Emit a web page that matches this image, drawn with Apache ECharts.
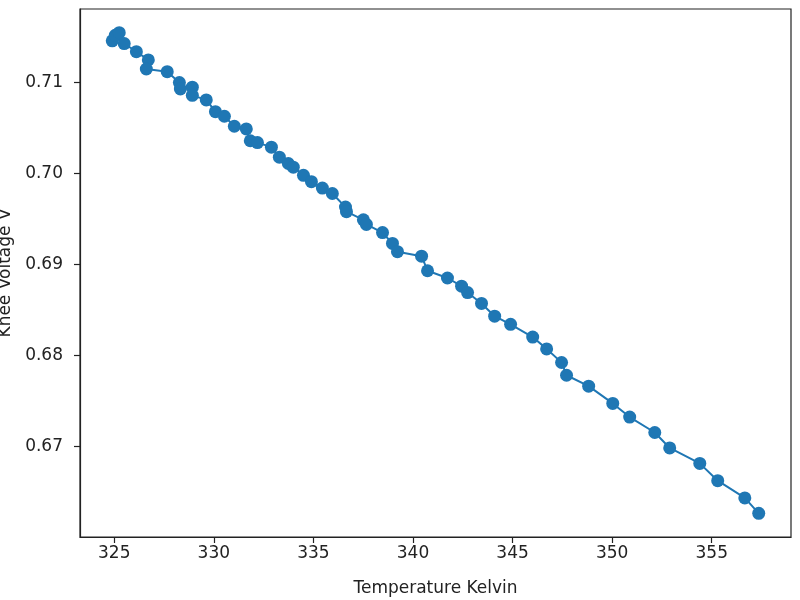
<!DOCTYPE html>
<html>
<head>
<meta charset="utf-8">
<script src="https://cdn.jsdelivr.net/npm/echarts@6/dist/echarts.min.js"></script>
<style>html,body{margin:0;padding:0;background:#fff}#c{width:800px;height:600px}</style>
</head>
<body>
<div id="c"></div>
<script>
const temperature = [324.90,325.05,325.25,325.50,326.11,326.71,326.61,327.66,328.27,328.32,328.92,328.92,329.62,330.08,330.53,331.03,331.63,331.83,332.19,332.89,333.29,333.74,333.99,334.50,334.90,335.45,335.95,336.61,336.66,337.51,337.66,338.47,338.97,339.22,340.43,340.73,341.73,342.44,342.74,343.44,344.10,344.90,346.01,346.71,347.46,347.71,348.82,350.03,350.88,352.14,352.89,354.40,355.30,356.66,357.36];
const kneeVoltage = [0.7146,0.7152,0.7155,0.7143,0.7134,0.7125,0.7115,0.7112,0.7100,0.7093,0.7095,0.7086,0.7081,0.7068,0.7063,0.7052,0.7049,0.7036,0.7034,0.7029,0.7018,0.7011,0.7007,0.6998,0.6991,0.6984,0.6978,0.6963,0.6958,0.6949,0.6944,0.6935,0.6923,0.6914,0.6909,0.6893,0.6885,0.6876,0.6869,0.6857,0.6843,0.6834,0.6820,0.6807,0.6792,0.6778,0.6766,0.6747,0.6732,0.6715,0.6698,0.6681,0.6662,0.6643,0.6626];
const xTicks = [325,330,335,340,345,350,355];
const yTicks = [0.67,0.68,0.69,0.70,0.71];

const chart = echarts.init(document.getElementById('c'), null, {renderer:'canvas'});
const font = 'DejaVu Sans';
chart.setOption({
  animation: false,
  grid: {left: 80, right: 9, top: 9, bottom: 63, outerBoundsMode: 'none', containLabel: false,
    show: true, borderColor: '#222', borderWidth: 1.2, backgroundColor: 'transparent'},
  xAxis: {
    type: 'value', min: 323.28, max: 358.98,
    name: 'Temperature Kelvin', nameLocation: 'middle', nameGap: 43,
    nameTextStyle: {fontFamily: font, fontSize: 17, color: '#222'},
    axisLine: {show: true, onZero: false, lineStyle: {color: '#222', width: 1.2}},
    axisTick: {show: true, length: 6, customValues: xTicks, lineStyle: {color: '#222', width: 1.2}},
    axisLabel: {customValues: xTicks, fontFamily: font, fontSize: 17, color: '#222', margin: 8},
    splitLine: {show: false}
  },
  yAxis: {
    type: 'value', min: 0.66, max: 0.7181,
    name: 'Knee Voltage V', nameLocation: 'middle', nameGap: 66, nameRotate: 90,
    nameTextStyle: {fontFamily: font, fontSize: 17, color: '#222'},
    axisLine: {show: true, onZero: false, lineStyle: {color: '#222', width: 1.2}},
    axisTick: {show: true, length: 6, customValues: yTicks, lineStyle: {color: '#222', width: 1.2}},
    axisLabel: {customValues: yTicks, fontFamily: font, fontSize: 17, color: '#222', margin: 17,
      formatter: v => v.toFixed(2)},
    splitLine: {show: false}
  },
  series: [{
    type: 'line',
    data: temperature.map((t, i) => [t, kneeVoltage[i]]),
    symbol: 'circle', symbolSize: 13, showAllSymbol: true,
    lineStyle: {color: '#1f77b4', width: 2},
    itemStyle: {color: '#1f77b4'}
  }]
});
</script>
</body>
</html>
